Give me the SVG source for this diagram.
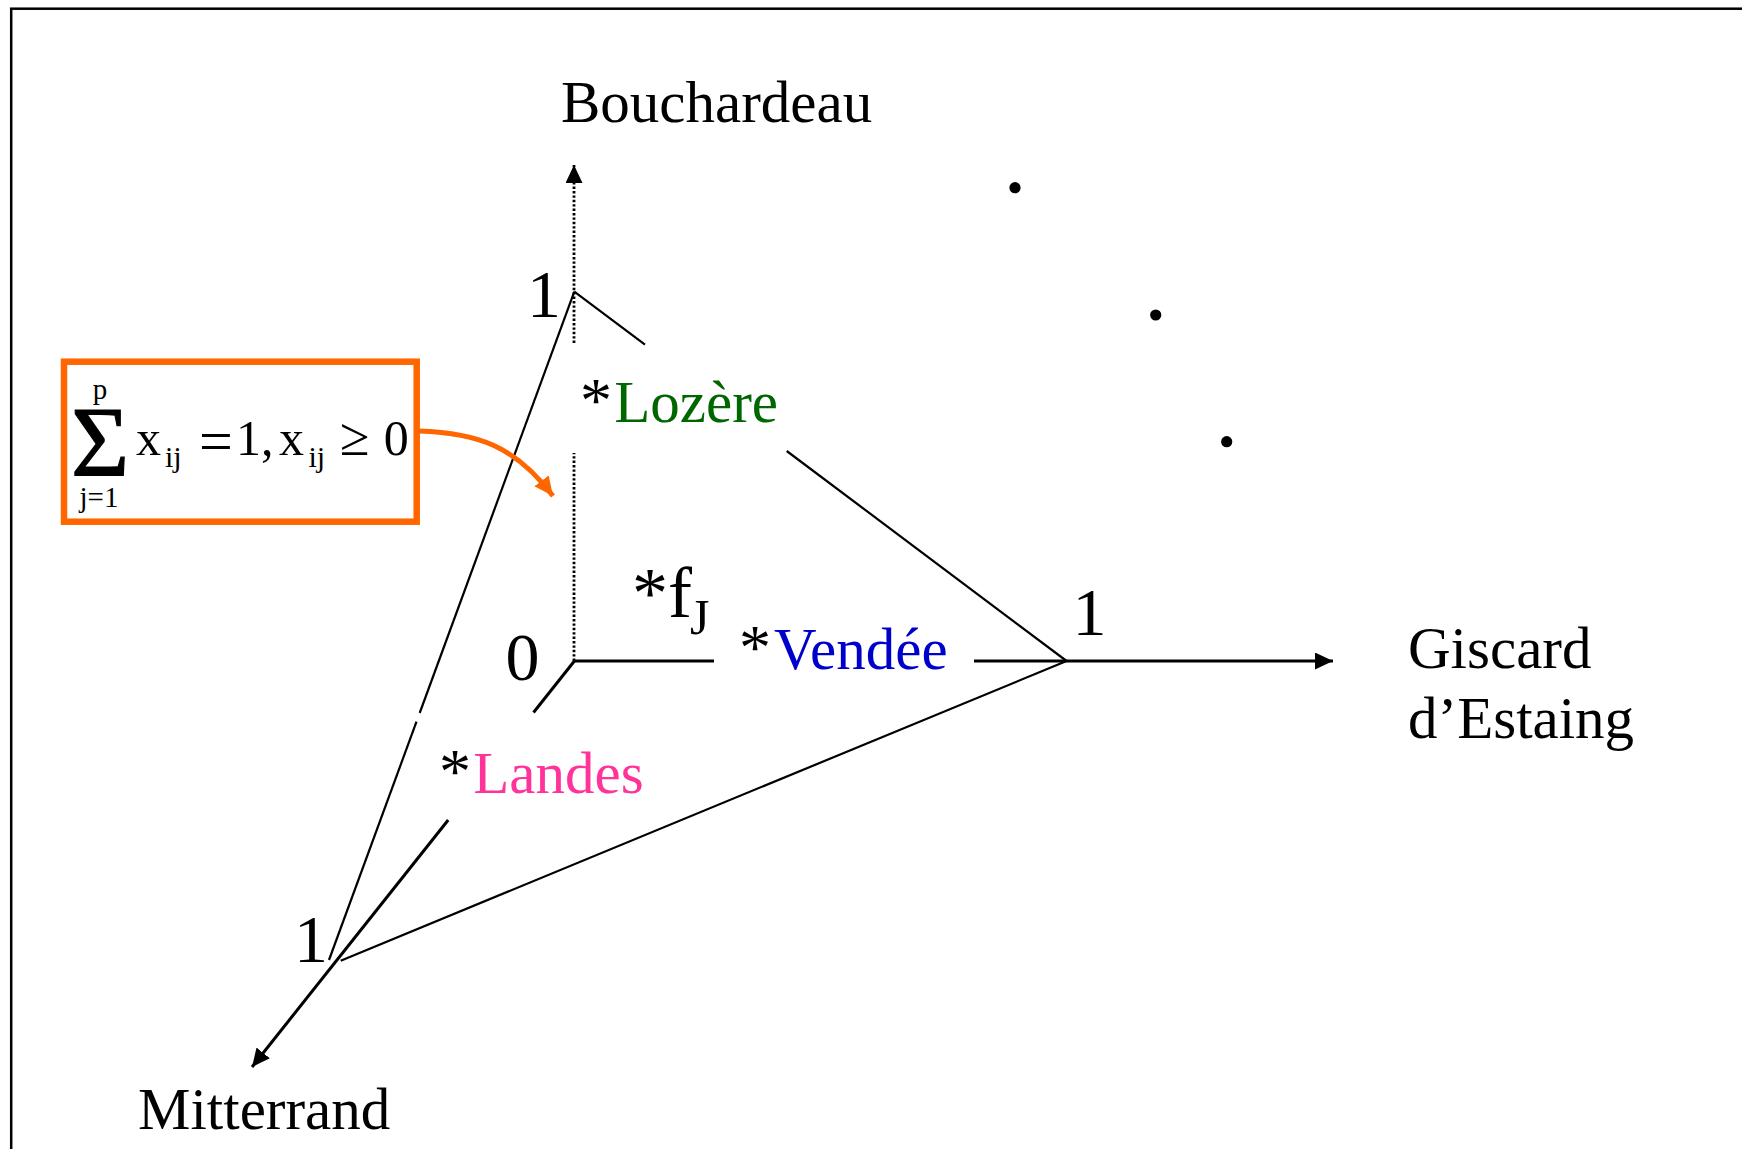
<svg xmlns="http://www.w3.org/2000/svg" width="1742" height="1149" viewBox="0 0 1742 1149">
<style>
text{font-family:"Liberation Serif","Times New Roman",serif;fill:#000}
.lbl{font-size:59px}
.num{font-size:68px}
.star{font-size:64px}
.edge{stroke:#000;stroke-width:2.2;fill:none}
.axis{stroke:#000;stroke-width:3;fill:none}
.dot{stroke:#000;stroke-width:2.8;fill:none;stroke-dasharray:2.4 2}
.f{font-size:50px}
.s{font-size:30px}
</style>
<defs>
<marker id="ah" markerUnits="userSpaceOnUse" markerWidth="20" markerHeight="18" refX="18" refY="8.5" orient="auto">
<path d="M0,0 L18,8.5 L0,17 z" fill="#000"/>
</marker>
<marker id="oh" markerUnits="userSpaceOnUse" markerWidth="22" markerHeight="20" refX="19" refY="9" orient="auto">
<path d="M0,0 L19,9 L0,18 z" fill="#FF6600"/>
</marker>
</defs>
<rect x="0" y="0" width="1742" height="1149" fill="#fff"/>
<rect id="frame" x="11.2" y="8.7" width="1800" height="1200" fill="none" stroke="#000" stroke-width="2.5"/>

<g id="connectors">
<line class="dot" x1="574" y1="661" x2="574" y2="453"/>
<line class="dot" x1="574" y1="343" x2="574" y2="165" marker-end="url(#ah)"/>
<line class="axis" x1="574" y1="661" x2="714" y2="661"/>
<line class="axis" x1="974" y1="661" x2="1333" y2="661" marker-end="url(#ah)"/>
<line class="axis" x1="574.4" y1="661" x2="533.5" y2="712.5"/>
<line class="axis" x1="448.2" y1="820" x2="252" y2="1067" marker-end="url(#ah)"/>
<line class="edge" x1="574.3" y1="291.7" x2="645" y2="344.7"/>
<line class="edge" x1="786.7" y1="451" x2="1066.6" y2="661"/>
<line class="edge" x1="574.3" y1="291.7" x2="419.7" y2="713"/>
<line class="edge" x1="416.5" y1="721.7" x2="329" y2="960"/>
<line class="edge" x1="340.7" y1="960.7" x2="1066.6" y2="661"/>
<path d="M419,431 C478,433 515,446 553,496" stroke="#FF6600" stroke-width="5" fill="none" marker-end="url(#oh)"/>
</g>

<g id="dots">
<circle cx="1015" cy="187.7" r="5.6" fill="#000"/>
<circle cx="1155.7" cy="315" r="5.6" fill="#000"/>
<circle cx="1226.7" cy="441.7" r="5.6" fill="#000"/>
</g>

<g id="label-bouchardeau"><text class="lbl" x="561" y="121.7">Bouchardeau</text></g>
<g id="label-mitterrand"><text class="lbl" x="138" y="1129">Mitterrand</text></g>
<g id="label-giscard"><text class="lbl" x="1408" y="668.3">Giscard</text><text class="lbl" x="1408" y="738.3">d’Estaing</text></g>

<g id="tick-b1"><text class="num" x="527" y="316.7">1</text></g>
<g id="tick-g1"><text class="num" x="1072.5" y="635">1</text></g>
<g id="tick-m1"><text class="num" x="294" y="961.7">1</text></g>
<g id="tick-origin"><text class="num" x="505.4" y="679.5">0</text></g>

<g id="point-lozere"><text class="star" x="580" y="421.7">*</text><text class="lbl" x="614.3" y="421.7" style="fill:#006600">Lozère</text></g>
<g id="point-vendee"><text class="star" x="739" y="669">*</text><text class="lbl" x="774" y="669" style="fill:#0000CC">Vendée</text></g>
<g id="point-landes"><text class="star" x="439" y="793.3">*</text><text class="lbl" x="473.3" y="793.3" style="fill:#FF3399">Landes</text></g>
<g id="point-fj"><text x="632" y="617" style="font-size:72px">*f</text><text x="690" y="634" style="font-size:50px">J</text></g>

<g id="constraint-box">
<rect x="64" y="361.7" width="352.7" height="160" fill="none" stroke="#FF6600" stroke-width="6.5"/>
<text x="71" y="475" style="font-size:100px;stroke:#000;stroke-width:1.2">Σ</text>
<text x="100" y="399" text-anchor="middle" style="font-size:29px">p</text>
<text x="99" y="507" text-anchor="middle" style="font-size:29px">j=1</text>
<text class="f" x="136" y="455">x</text>
<text class="s" x="165" y="467">ij</text>
<text x="199" y="461" style="font-size:60px">=</text>
<text class="f" x="236" y="455">1,</text>
<text class="f" x="279" y="455">x</text>
<text class="s" x="308.5" y="467">ij</text>
<text x="340" y="455" style="font-size:54px">≥</text>
<text class="f" x="383.8" y="455">0</text>
</g>
</svg>
